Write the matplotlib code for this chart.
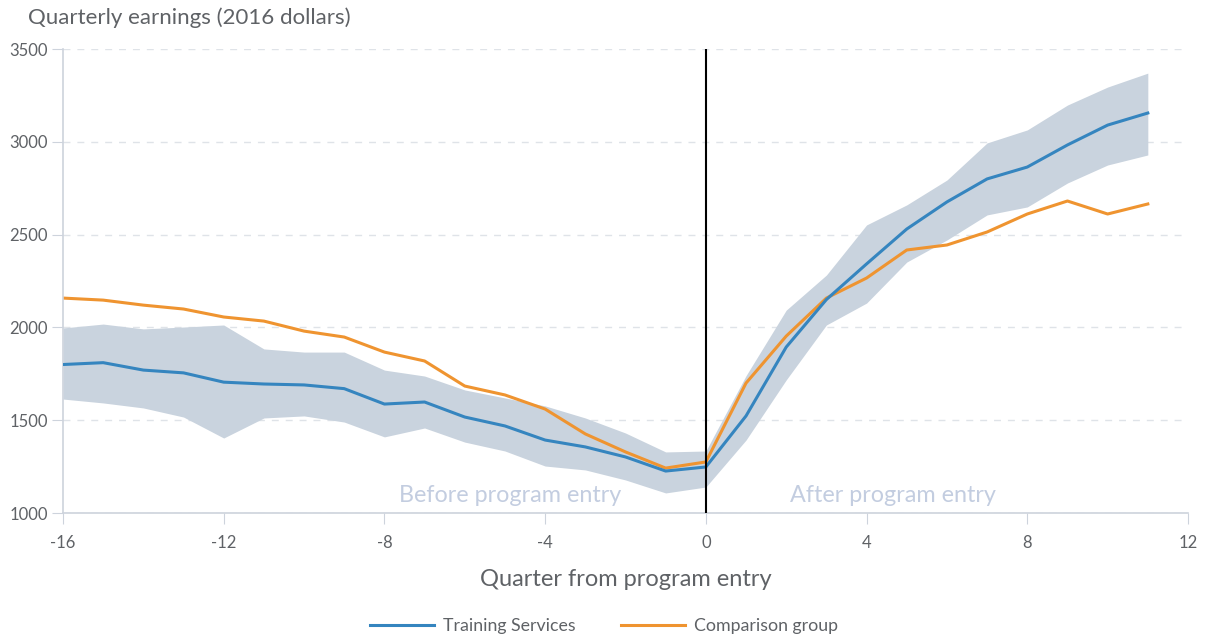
import numpy as np
import matplotlib.pyplot as plt

plt.rcParams['font.family'] = ['Lato', 'DejaVu Sans']
plt.rcParams['axes.unicode_minus'] = False

quarters = list(range(-16, 12))

training = [1800, 1810, 1770, 1755, 1705, 1695, 1690, 1670, 1587, 1598,
            1517, 1469, 1393, 1356, 1302, 1226, 1248, 1523, 1894, 2150,
            2342, 2530, 2676, 2800, 2864, 2983, 3090, 3155]
comparison = [2158, 2147, 2120, 2099, 2056, 2034, 1980, 1948, 1867, 1819,
              1684, 1636, 1560, 1426, 1329, 1242, 1275, 1700, 1953, 2158,
              2266, 2417, 2444, 2514, 2611, 2681, 2611, 2665]
ci_upper = [1997, 2018, 1992, 2002, 2013, 1884, 1867, 1867, 1770, 1738,
            1663, 1620, 1577, 1512, 1431, 1329, 1334, 1740, 2093, 2282,
            2552, 2660, 2794, 2994, 3064, 3198, 3295, 3370]
ci_lower = [1614, 1593, 1566, 1517, 1404, 1512, 1523, 1490, 1410, 1458,
            1382, 1334, 1253, 1232, 1178, 1108, 1140, 1393, 1717, 2013,
            2131, 2352, 2471, 2606, 2649, 2778, 2875, 2929]

xticks = [-16, -12, -8, -4, 0, 4, 8, 12]
yticks = [1000, 1500, 2000, 2500, 3000, 3500]

blue = '#3585bf'
orange = '#ef9430'
band = '#c9d3de'
grey = '#5f6266'
axis_grey = '#cdd3dc'

fig = plt.figure(figsize=(12.07, 6.38), dpi=100)
ax = fig.add_axes([63/1207, 1-513/638, (1188-63)/1207, (513-49)/638])

ax.fill_between(quarters, ci_lower, ci_upper, color=band, lw=0, zorder=1)
l1, = ax.plot(quarters, training, color=blue, lw=2.2, zorder=3)
l2, = ax.plot(quarters, comparison, color=orange, lw=2.2, zorder=2)
ax.axvline(0, color='black', lw=1.5, zorder=4)

ax.set_xlim(-16, 12)
ax.set_ylim(1000, 3500)
ax.set_xticks(xticks)
ax.set_yticks(yticks)
ax.grid(axis='y', ls=(0, (5, 5)), color='#dfe3e8', lw=1)
ax.set_axisbelow(True)

for s in ['top', 'right']:
    ax.spines[s].set_visible(False)
for s in ['left', 'bottom']:
    ax.spines[s].set_color(axis_grey)
    ax.spines[s].set_linewidth(1.2)
ax.tick_params(axis='both', colors=axis_grey, labelcolor=grey, labelsize=12, length=8)
ax.tick_params(axis='x', pad=8)
ax.tick_params(axis='y', pad=3)

ax.text(-2.1, 1060, 'Before program entry', color='#c3cde0', fontsize=16.8, ha='right', va='baseline')
ax.text(2.1, 1060, 'After program entry', color='#c3cde0', fontsize=16.8, ha='left', va='baseline')

fig.text(28/1207, 1-18/638, 'Quarterly earnings (2016 dollars)', color=grey, fontsize=16, va='center', ha='left')
fig.text(626/1207, 1-580/638, 'Quarter from program entry', color=grey, fontsize=17, ha='center', va='center')

fig.legend([l1, l2], ['Training Services', 'Comparison group'], loc='center', ncol=2,
           bbox_to_anchor=(604/1207, 1-626/638), frameon=False, fontsize=12.8,
           labelcolor=grey, handlelength=3.6, columnspacing=2.6, handletextpad=0.5)

fig.savefig('out.png', dpi=100, facecolor='white')
